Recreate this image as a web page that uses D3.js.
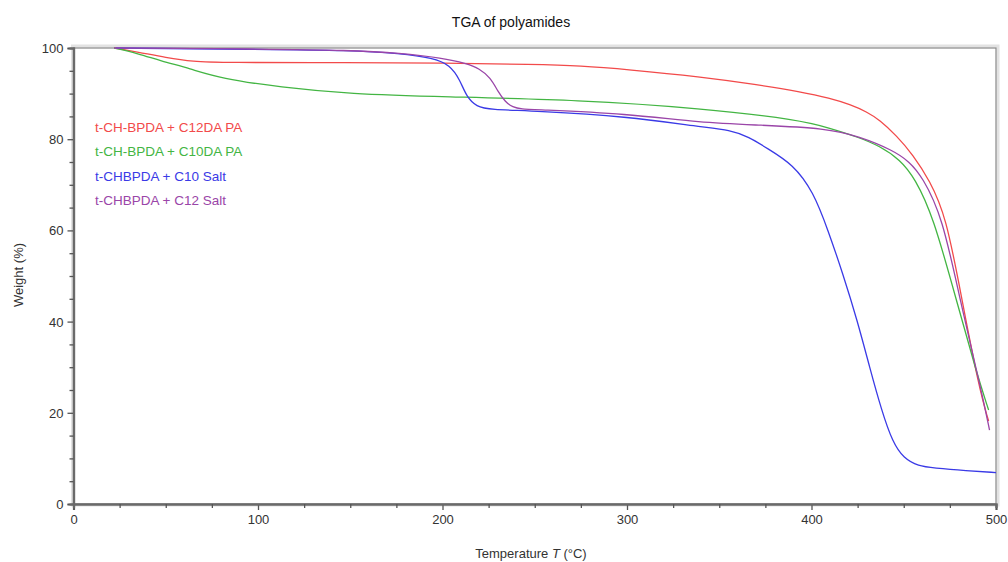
<!DOCTYPE html>
<html><head><meta charset="utf-8">
<script src="https://cdn.jsdelivr.net/npm/d3@7"></script>
<style>body{margin:0;background:#fff;} text{font-family:"Liberation Sans",Arial,sans-serif;}</style>
</head><body>
<svg id="c" width="1008" height="562"></svg>
<script>
const title = "TGA of polyamides";
const xTicks = [0,100,200,300,400,500];
const yTicks = [0,20,40,60,80,100];
const seriesNames = ["t-CH-BPDA + C12DA PA","t-CH-BPDA + C10DA PA","t-CHBPDA + C10 Salt","t-CHBPDA + C12 Salt"];
const seriesColors = ["#f24a4a","#43b543","#3a3ae6","#9a45a8"];

const redT = [22,35,50,65,80,150,200,250,275,300,340,370,394,410,421,430,437,446,455,464,473,481,491,496];
const redW = [100,99.1,97.9,97.0,96.8,96.8,96.7,96.4,96.1,95.3,93.7,92.0,90.4,89.0,87.6,86.0,84.2,80.8,76.6,71,63,46,25,18.2];
const greenT = [22,35,47,63,80,112,150,200,275,340,394,410,425,437,448,456,466,478,489.5,496];
const greenW = [100,98.8,97.2,95.5,93.3,91.4,89.9,89.3,88.6,86.8,84.2,82.4,80.5,78.5,75.5,71.5,63,45.5,28.7,20.6];
const blueT = [23,100,150,177,195,204,209.5,213,218.5,225.7,250,300,340,356,366,376,390,401,409,417,425,431.5,438,444,450,458,466,484,500];
const blueW = [100,99.7,99.5,98.8,97.8,96.3,93,89.3,87.1,86.5,86.2,85.0,82.7,82.0,80.5,78,74.5,68.5,60,50.5,40,30,20.5,13.5,10,8.3,7.9,7.3,6.9];
const purpleT = [22,100,150,177,200,213,220,226,230,234,238,243,250,300,340,372,408,426,444,453,460,471,480.5,492,496.5];
const purpleW = [100,99.8,99.5,98.9,97.8,96.6,95.5,93.5,90.5,88.2,87.0,86.6,86.5,85.6,83.6,83.1,82.4,80.6,77.6,75.1,71.8,63,44.7,25,16.2];

const seriesT = [redT, greenT, blueT, purpleT];
const seriesW = [redW, greenW, blueW, purpleW];

const svg = d3.select("#c");
const L = 73.5, R = 996, T = 48, B = 504;
const x = d3.scaleLinear().domain([0,500]).range([L,R]);
const y = d3.scaleLinear().domain([0,100]).range([B,T]);

// shadow and frame
svg.append("rect").attr("x",L-1).attr("y",T-2).attr("width",R-L+3).attr("height",B-T+3)
  .attr("fill","none").attr("stroke","#e2e2e2").attr("stroke-width",3);
svg.append("rect").attr("x",L).attr("y",T).attr("width",R-L).attr("height",B-T)
  .attr("fill","#fff").attr("stroke","#888").attr("stroke-width",1.2);

// axes
const xAxis = d3.axisBottom(x).tickValues(xTicks).tickSize(6).tickPadding(5).tickFormat(d3.format("d"));
const gx = svg.append("g").attr("transform",`translate(0,${B})`).call(xAxis);
const xMinor = d3.axisBottom(x).tickValues(d3.range(0,501,25).filter(v=>v%100)).tickSize(4).tickFormat("");
const gx2 = svg.append("g").attr("transform",`translate(0,${B})`).call(xMinor);
const yAxis = d3.axisLeft(y).tickValues(yTicks).tickSize(6).tickPadding(4).tickFormat(d3.format("d"));
const gy = svg.append("g").attr("transform",`translate(${L},0)`).call(yAxis);
const yMinor = d3.axisLeft(y).tickValues(d3.range(0,101,5).filter(v=>v%20)).tickSize(4).tickFormat("");
const gy2 = svg.append("g").attr("transform",`translate(${L},0)`).call(yMinor);
[gx,gx2,gy,gy2].forEach(g=>{
  g.select(".domain").attr("stroke","#6a6a6a").attr("stroke-width",2.2);
  g.selectAll(".tick line").attr("stroke","#555").attr("stroke-width",1.3);
  g.selectAll("text").attr("font-size",13).attr("fill","#333").attr("font-family","'Liberation Sans',Arial,sans-serif");
});
gy.selectAll("text").attr("dy","0.35em");

// lines
const line = d3.line().x(d=>x(d[0])).y(d=>y(d[1])).curve(d3.curveBasis);
seriesT.forEach((ts,i)=>{
  const pts = ts.map((t,j)=>[t, seriesW[i][j]]);
  svg.append("path").datum(pts).attr("d",line).attr("fill","none")
    .attr("stroke",seriesColors[i]).attr("stroke-width",1.3);
});

// legend
seriesNames.forEach((n,i)=>{
  svg.append("text").attr("x",95).attr("y",127+i*24.5).attr("dy","0.35em")
    .attr("font-size",13.5).attr("fill",seriesColors[i]).text(n);
});

// titles
svg.append("text").attr("x",511).attr("y",22).attr("dy","0.35em").attr("text-anchor","middle")
  .attr("font-size",14).attr("fill","#111").text(title);
const xl = svg.append("text").attr("x",531).attr("y",553).attr("dy","0.35em").attr("text-anchor","middle")
  .attr("font-size",13).attr("fill","#333");
xl.append("tspan").text("Temperature ");
xl.append("tspan").attr("font-style","italic").text("T");
xl.append("tspan").text(" (°C)");
svg.append("text").attr("transform","translate(18,275) rotate(-90)").attr("dy","0.35em").attr("text-anchor","middle")
  .attr("font-size",13).attr("fill","#333").text("Weight  (%)");
</script>
</body></html>
